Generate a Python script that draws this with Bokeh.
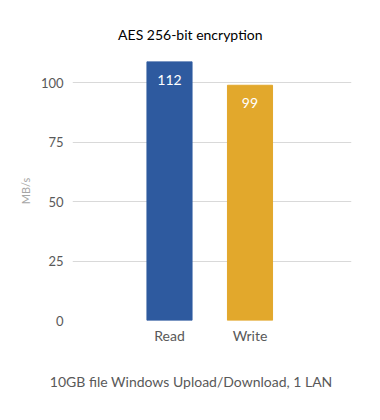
from bokeh.plotting import figure
from bokeh.models import Range1d, FixedTicker, ColumnDataSource, Title
from bokeh.core.properties import value
from bokeh.embed import file_html
from bokeh.resources import INLINE

categories = ["Read", "Write"]
values = [112, 99]
colors = ["#2E5A9F", "#E2A82C"]
y_ticks = [0, 25, 50, 75, 100]
y_max = 109

xs = list(range(len(categories)))
label_y = [min(v, y_max) - 7.6 for v in values]
src = ColumnDataSource(dict(x=xs, top=values, color=colors,
                            label=[str(v) for v in values], ly=label_y))

FONT = "Lato"
p = figure(width=380, height=420, output_backend="svg", toolbar_location=None,
           x_range=Range1d(-1.205, 2.261), y_range=Range1d(0, y_max),
           min_border_left=72, min_border_right=29, min_border_top=61,
           min_border_bottom=100)
p.outline_line_color = None
p.background_fill_color = "white"
p.border_fill_color = "white"

p.vbar(x="x", top="top", width=0.56, color="color", source=src)
p.text(x="x", y="ly", text="label", source=src, text_color="white",
       text_align="center", text_baseline="middle", text_font=value(FONT),
       text_font_size="14px")

p.xgrid.grid_line_color = None
p.ygrid.grid_line_color = "#D9D9D9"
p.ygrid.grid_line_width = 1
p.yaxis.ticker = FixedTicker(ticks=y_ticks)
p.xaxis.ticker = FixedTicker(ticks=xs)
p.xaxis.major_label_overrides = {i: c for i, c in enumerate(categories)}

for ax in (p.xaxis, p.yaxis):
    ax.axis_line_color = None
    ax.major_tick_line_color = None
    ax.minor_tick_line_color = None
    ax.major_tick_out = 0
    ax.major_tick_in = 0
    ax.minor_tick_out = 0
    ax.minor_tick_in = 0
    ax.major_label_text_font = FONT
    ax.major_label_text_color = "#595959"
    ax.major_label_text_font_size = "13px"

p.xaxis.major_label_standoff = 6
p.xaxis.major_label_text_font_size = "14px"
p.yaxis.major_label_standoff = 9
p.yaxis.axis_label = "MB/s"
p.yaxis.axis_label_text_font = FONT
p.yaxis.axis_label_text_font_style = "normal"
p.yaxis.axis_label_text_font_size = "11px"
p.yaxis.axis_label_text_color = "#A6A6A6"
p.yaxis.axis_label_standoff = 6

p.title = Title(text="AES 256-bit encryption", align="right", offset=89,
                text_font=FONT, text_font_size="14px", text_font_style="normal",
                text_color="black", standoff=38)
p.add_layout(Title(text="10GB file Windows Upload/Download, 1 LAN", align="right",
                   offset=19, text_font=FONT, text_font_size="14px",
                   text_font_style="normal", text_color="#595959", standoff=48),
             "below")

open("out.html", "w").write(file_html(p, INLINE))
